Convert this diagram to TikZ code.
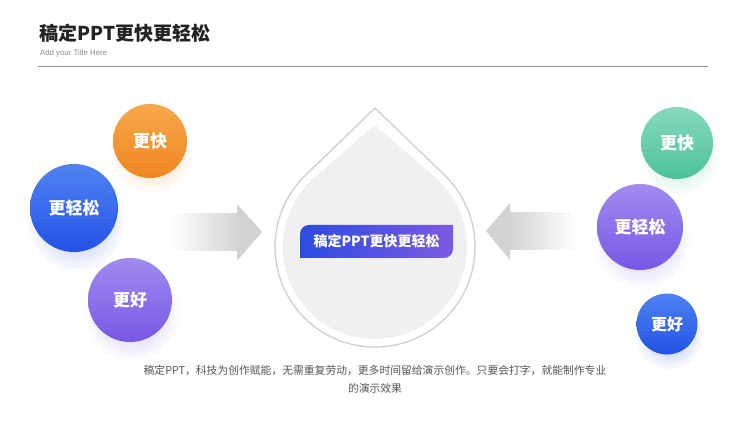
\documentclass[tikz,border=0pt]{standalone}
\usepackage{fontspec}
\setmainfont{Noto Sans CJK SC}
\newfontfamily\latfont{Liberation Sans}
\usetikzlibrary{fadings}
\definecolor{titlec}{HTML}{222222}
\definecolor{subc}{HTML}{8A8A8A}
\definecolor{rulec}{HTML}{8C95AA}
\definecolor{bodyc}{HTML}{555555}
\definecolor{arrowc}{HTML}{D2D2D2}
\definecolor{dropline}{HTML}{CFCFCF}
\definecolor{dropfill}{HTML}{F0F0F0}
\definecolor{orgT}{HTML}{F6A84A}\definecolor{orgB}{HTML}{EE8620}
\definecolor{bluT}{HTML}{4F82F2}\definecolor{bluB}{HTML}{2452E6}
\definecolor{purT}{HTML}{A08CF0}\definecolor{purB}{HTML}{7658E4}
\definecolor{grnT}{HTML}{86D8BC}\definecolor{grnB}{HTML}{4CC29A}
\definecolor{boxL}{HTML}{2C4CE0}\definecolor{boxR}{HTML}{7C5AE2}
\tikzfading[name=glowfade, inner color=transparent!35, outer color=transparent!100]
\tikzfading[name=fadeLR, left color=transparent!100, right color=transparent!0]
\tikzfading[name=fadeRL, left color=transparent!0, right color=transparent!100]
\tikzset{
  ball/.style={circle, minimum size=#1, inner sep=0pt, text=white,
    font=\bfseries\fontsize{17}{17}\selectfont},
  glow/.style={fill=#1, path fading=glowfade},
}
\begin{document}
\begin{tikzpicture}[x=1pt,y=-1pt]
\fill[white] (0,0) rectangle (750,422);
\useasboundingbox (0,0) rectangle (750,422);
% header
\node[anchor=west, inner sep=0pt, text=titlec, font=\bfseries\fontsize{19}{19}\selectfont] (title) at (39,33) {稿定PPT更快更轻松};
\node[anchor=west, inner sep=0pt, text=subc, font=\latfont\fontsize{7.8}{8}\selectfont] (subtitle) at (40,53) {Add your Title Here};
\coordinate (ruleL) at (38,66);
\coordinate (ruleR) at (708,66);
\draw[rulec, line width=0.9pt] (ruleL) -- (ruleR);
% arrows
\fill[arrowc, path fading=fadeLR] (172,213) -- (240,213) -- (240,251) -- (172,251) -- cycle;
\fill[arrowc] (237,204) -- (262,232) -- (237,261) -- cycle;
\fill[arrowc, path fading=fadeRL] (507,212) -- (575,212) -- (575,250) -- (507,250) -- cycle;
\fill[arrowc] (510,203) -- (486,231) -- (510,260) -- cycle;
% drop
\filldraw[draw=dropline, line width=1.3pt, fill=white]
  (375,108) -- (444.5,175.1) arc[start angle=-46, end angle=226, radius=100] -- cycle;
\fill[dropfill]
  (375,125) -- (436.2,178.4) arc[start angle=-48.2, end angle=228.2, radius=92] -- cycle;
% label box
\shade[left color=boxL, right color=boxR]
  (300,258) -- (300,234) .. controls (300,229) and (304,225) .. (309,225)
  -- (453,225) -- (453,249) .. controls (453,254) and (449,258) .. (444,258) -- cycle;
\node[text=white, font=\bfseries\fontsize{14}{14}\selectfont, inner sep=0pt] (core) at (376.5,241.5) {稿定PPT更快更轻松};
% glows
\fill[glow=orgB, opacity=0.6] (152,152) circle (42pt);
\fill[glow=bluB, opacity=0.6] (76,222) circle (50pt);
\fill[glow=purB, opacity=0.6] (132,313) circle (48pt);
\fill[glow=grnB, opacity=0.6] (679,155) circle (41pt);
\fill[glow=purB, opacity=0.6] (642,240) circle (49pt);
\fill[glow=bluB, opacity=0.6] (669,335) circle (35pt);
% circles
\node[ball=74pt, top color=orgT, bottom color=orgB] (lq) at (150,141) {更快};
\node[ball=88pt, top color=bluT, bottom color=bluB] (le) at (74,208) {更轻松};
\node[ball=84pt, top color=purT, bottom color=purB] (lg) at (130,300) {更好};
\node[ball=72pt, top color=grnT, bottom color=grnB] (rq) at (677,143) {更快};
\node[ball=86pt, top color=purT, bottom color=purB] (re) at (640,227) {更轻松};
\node[ball=61pt, top color=bluT, bottom color=bluB, font=\bfseries\fontsize{16}{16}\selectfont] (rg) at (667,324) {更好};
% body text
\node[text=bodyc, font=\fontsize{10.8}{18}\selectfont, align=center, inner sep=0pt] (body) at (375,379)
  {稿定PPT，科技为创作赋能，无需重复劳动，更多时间留给演示创作。只要会打字，就能制作专业\\的演示效果};
\end{tikzpicture}
\end{document}
